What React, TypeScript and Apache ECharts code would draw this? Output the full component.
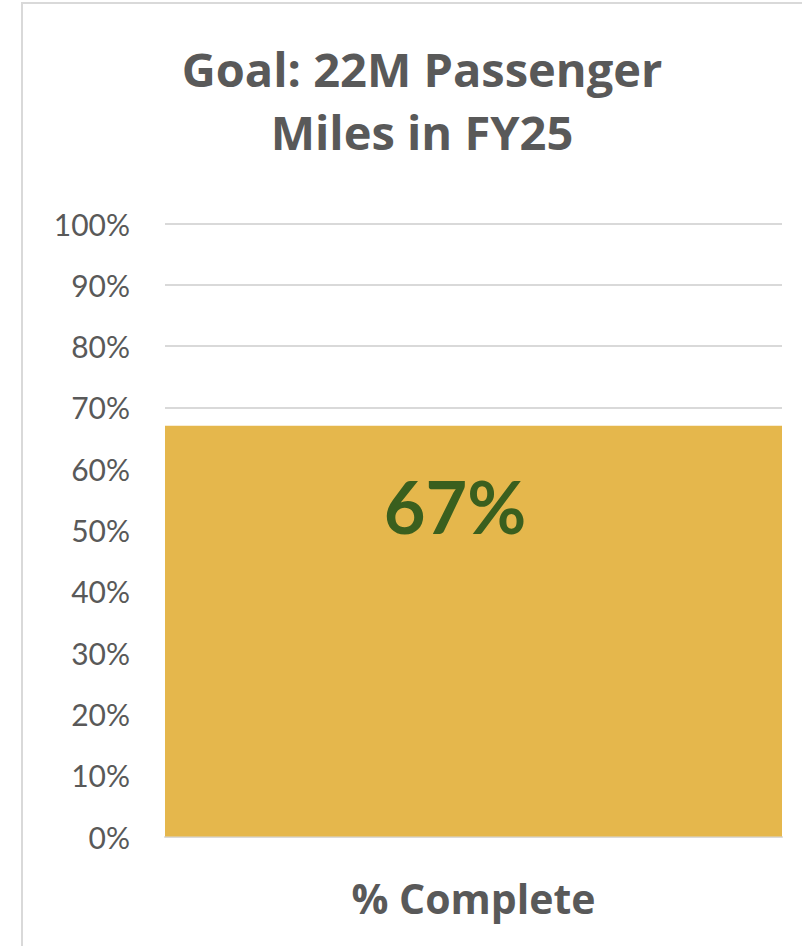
import React, { useEffect, useRef } from "react";
import * as echarts from "echarts";

const categories: string[] = ["% Complete"];
const percentComplete: number[] = [0.67];
const yTicks: number[] = [0, 0.1, 0.2, 0.3, 0.4, 0.5, 0.6, 0.7, 0.8, 0.9, 1];
const titleLines: string[] = ["Goal: 22M Passenger", "Miles in FY25"];

const FONT = "Lato, Carlito, 'Open Sans', sans-serif";
const WIDE = "'Open Sans', Lato, sans-serif";

export default function App() {
  const ref = useRef<HTMLDivElement>(null);
  useEffect(() => {
    if (!ref.current) return;
    const chart = echarts.init(ref.current, undefined, { renderer: "svg" });
    chart.setOption({
      animation: false,
      backgroundColor: "#ffffff",
      grid: { left: 165, right: 20, top: 223.5, bottom: 109.5, containLabel: false },
      graphic: [
        {
          type: "rect",
          shape: { x: 22, y: 3, width: 900, height: 1000 },
          style: { fill: "none", stroke: "#d9d9d9", lineWidth: 2 },
          silent: true,
        },
        {
          type: "text",
          x: 422,
          y: 37,
          style: {
            text: titleLines.join("\n"),
            fill: "#595959",
            fontFamily: WIDE,
            fontWeight: "bold",
            fontSize: 47,
            lineHeight: 63,
            align: "center",
            verticalAlign: "top",
          },
        },
      ],
      xAxis: {
        type: "category",
        data: categories,
        axisLine: { show: true, lineStyle: { color: "#d9d9d9", width: 2 } },
        axisTick: { show: false },
        axisLabel: {
          color: "#595959",
          fontFamily: WIDE,
          fontWeight: "bold",
          fontSize: 41,
          margin: 41,
        },
      },
      yAxis: {
        type: "value",
        min: yTicks[0],
        max: yTicks[yTicks.length - 1],
        interval: 0.1,
        axisLine: { show: false },
        axisTick: { show: false },
        splitLine: { show: true, lineStyle: { color: "#d9d9d9", width: 2 } },
        axisLabel: {
          color: "#595959",
          fontFamily: FONT,
          fontSize: 30,
          margin: 35,
          formatter: (v: number) => `${Math.round(v * 100)}%`,
        },
      },
      series: [
        {
          type: "bar",
          data: percentComplete,
          barWidth: "100%",
          itemStyle: { color: "#E5B74C" },
          label: {
            show: true,
            position: [290, 80],
            align: "center",
            verticalAlign: "middle",
            color: "#3A5F1E",
            fontFamily: FONT,
            fontWeight: "bold",
            fontSize: 72,
            formatter: (p: any) => `${Math.round(p.value * 100)}%`,
          },
        },
      ],
    });
    return () => chart.dispose();
  }, []);
  return (
    <div
      ref={ref}
      style={{ position: "fixed", left: 0, top: 0, width: 802, height: 946, background: "#fff" }}
    />
  );
}
